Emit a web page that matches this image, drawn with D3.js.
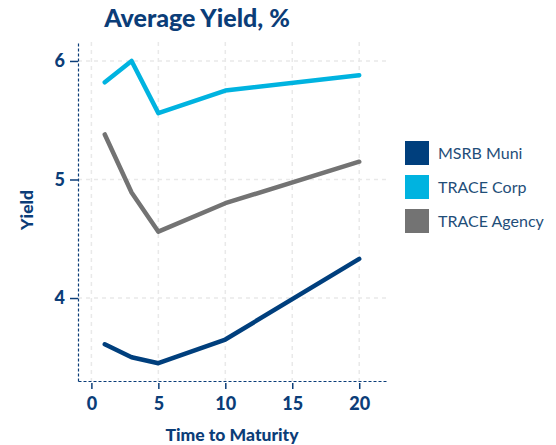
<!DOCTYPE html>
<html>
<head>
<meta charset="utf-8">
<script src="https://cdn.jsdelivr.net/npm/d3@7"></script>
<style>
  body { margin: 0; background: #fff; }
  text { font-family: Lato, "Open Sans", sans-serif; }
</style>
</head>
<body>
<div id="chart"></div>
<script>
// maturities (years) and average yields
const maturities = [1, 3, 5, 10, 20]
const muniYield = [3.61, 3.50, 3.45, 3.65, 4.33]
const corpYield = [5.82, 6.00, 5.56, 5.75, 5.88]
const agencyYield = [5.38, 4.89, 4.56, 4.80, 5.15]

const seriesNames = ["MSRB Muni", "TRACE Corp", "TRACE Agency"]
const seriesColors = ["#003f7d", "#00b3e0", "#737373"]
const xTicks = [0, 5, 10, 15, 20]
const yTicks = [4, 5, 6]

const width = 556
const height = 445
const margin = { left: 78, right: 170, top: 42, bottom: 64 }
const textColor = "#0b3d78"

const svg = d3.select("#chart").append("svg")
  .attr("width", width)
  .attr("height", height)

const x = d3.scaleLinear().domain([-1, 22]).range([margin.left, width - margin.right])
const y = d3.scaleLinear().domain([3.3, 6.16]).range([height - margin.bottom, margin.top])

// grid
svg.append("g")
  .selectAll("line")
  .data(xTicks)
  .enter().append("line")
  .attr("x1", d => x(d)).attr("x2", d => x(d))
  .attr("y1", y.range()[1]).attr("y2", y.range()[0])
  .attr("stroke", "#e9e9e9").attr("stroke-width", 1.5).attr("stroke-dasharray", "4,4")

svg.append("g")
  .selectAll("line")
  .data(yTicks)
  .enter().append("line")
  .attr("x1", x.range()[0]).attr("x2", x.range()[1])
  .attr("y1", d => y(d)).attr("y2", d => y(d))
  .attr("stroke", "#e9e9e9").attr("stroke-width", 1.5).attr("stroke-dasharray", "4,4")

// axes
const xAxis = svg.append("g")
  .attr("transform", `translate(0,${height - margin.bottom})`)
  .call(d3.axisBottom(x).tickValues(xTicks).tickSize(8).tickSizeOuter(0).tickPadding(8))
const yAxis = svg.append("g")
  .attr("transform", `translate(${margin.left},0)`)
  .call(d3.axisLeft(y).tickValues(yTicks).tickFormat(d3.format("d")).tickSize(8).tickSizeOuter(0).tickPadding(5))

;[xAxis, yAxis].forEach(ax => {
  ax.select(".domain").attr("stroke", textColor).attr("stroke-dasharray", "3,2").attr("stroke-width", 1.2)
  ax.selectAll(".tick line").attr("stroke", textColor).attr("stroke-width", 1.5)
  ax.selectAll(".tick text")
    .attr("fill", textColor)
    .style("font-size", "18px")
    .style("font-weight", "900")
    .style("font-family", "Lato, sans-serif")
})
// x ticks sit just under the axis, not crossing it
xAxis.selectAll(".tick line").attr("y1", 2)

// lines
const line = d3.line()
  .x((d, i) => x(maturities[i]))
  .y(d => y(d))

const allSeries = [muniYield, corpYield, agencyYield]
svg.append("g")
  .selectAll("path")
  .data(allSeries)
  .enter().append("path")
  .attr("d", d => line(d))
  .attr("fill", "none")
  .attr("stroke", (d, i) => seriesColors[i])
  .attr("stroke-width", 4.5)
  .attr("stroke-linejoin", "round")
  .attr("stroke-linecap", "round")

// title and labels
svg.append("text")
  .attr("x", 197).attr("y", 27)
  .attr("text-anchor", "middle")
  .attr("fill", textColor)
  .style("font-size", "25px")
  .style("font-weight", "900")
  .text("Average Yield, %")

svg.append("text")
  .attr("x", (x.range()[0] + x.range()[1]) / 2).attr("y", 441)
  .attr("text-anchor", "middle")
  .attr("fill", textColor)
  .style("font-size", "17.5px")
  .style("font-weight", "900")
  .text("Time to Maturity")

svg.append("text")
  .attr("transform", "translate(33,210) rotate(-90)")
  .attr("text-anchor", "middle")
  .attr("fill", textColor)
  .style("font-size", "17.5px")
  .style("font-weight", "900")
  .text("Yield")

// legend
const legend = svg.append("g").attr("transform", "translate(405,141)")
const item = legend.selectAll("g")
  .data(seriesNames)
  .enter().append("g")
  .attr("transform", (d, i) => `translate(0,${i * 34})`)
item.append("rect")
  .attr("width", 24).attr("height", 24)
  .attr("fill", (d, i) => seriesColors[i])
item.append("text")
  .attr("x", 33).attr("y", 18)
  .attr("fill", "#1f4e79")
  .style("font-size", "16px")
  .text(d => d)
</script>
</body>
</html>
